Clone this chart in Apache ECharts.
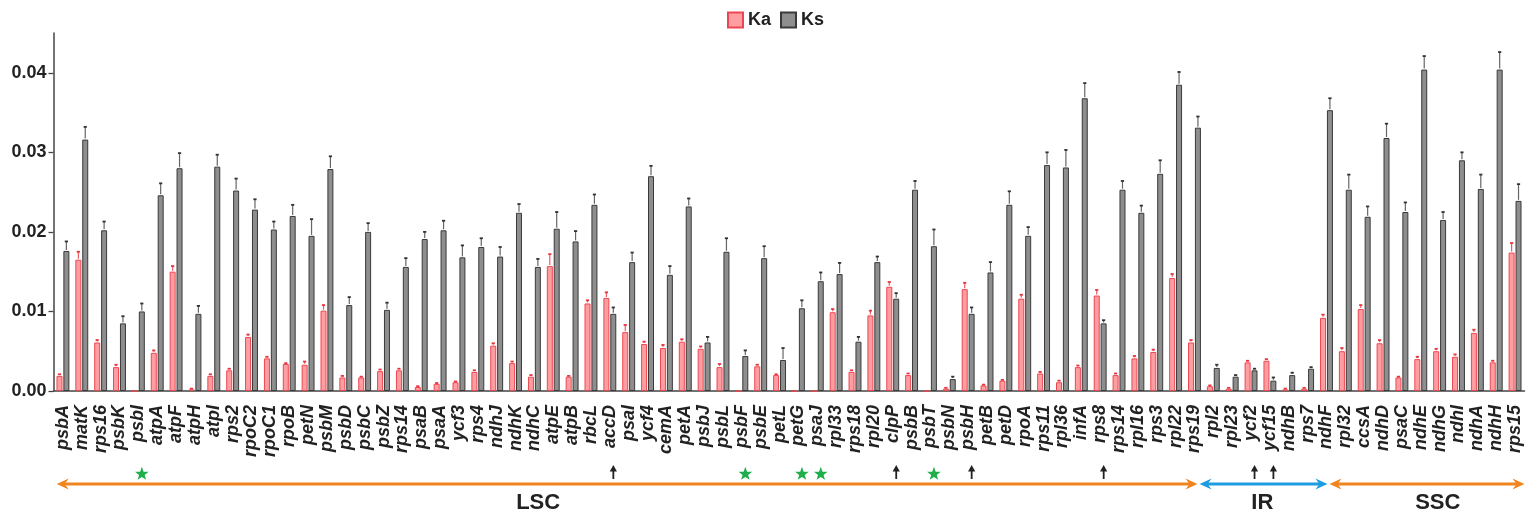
<!DOCTYPE html>
<html>
<head>
<meta charset="utf-8">
<script src="https://cdn.jsdelivr.net/npm/echarts@6/dist/echarts.min.js"></script>
<style>
  html, body { margin: 0; padding: 0; background: #ffffff; }
  #chart { width: 1530px; height: 516px; }
</style>
</head>
<body>
<div id="chart"></div>
<script>
// Protein-coding genes in genome order
const genes = [
  'psbA','matK','rps16','psbK','psbI','atpA','atpF','atpH','atpI','rps2',
  'rpoC2','rpoC1','rpoB','petN','psbM','psbD','psbC','psbZ','rps14','psaB',
  'psaA','ycf3','rps4','ndhJ','ndhK','ndhC','atpE','atpB','rbcL','accD',
  'psaI','ycf4','cemA','petA','psbJ','psbL','psbF','psbE','petL','petG',
  'psaJ','rpl33','rps18','rpl20','clpP','psbB','psbT','psbN','psbH','petB',
  'petD','rpoA','rps11','rpl36','infA','rps8','rps14','rpl16','rps3','rpl22',
  'rps19','rpl2','rpl23','ycf2','ycf15','ndhB','rps7','ndhF','rpl32','ccsA',
  'ndhD','psaC','ndhE','ndhG','ndhI','ndhA','ndhH','rps15'
];

// Non-synonymous substitution rate (Ka) and its error
const kaValues = [
  0.0019,0.0165,0.0061,0.0030,0,0.0048,0.0150,0.0002,0.0019,0.0026,
  0.0068,0.0041,0.0034,0.0033,0.0101,0.0017,0.0017,0.0025,0.0026,0.0005,
  0.0009,0.0011,0.0024,0.0057,0.0035,0.0018,0.0157,0.0018,0.0110,0.0117,
  0.0074,0.0059,0.0054,0.0062,0.0053,0.0030,0,0.0031,0.0020,0,
  0,0.0099,0.0024,0.0095,0.0131,0.0020,0,0.0003,0.0128,0.0007,
  0.0013,0.0116,0.0022,0.0011,0.0030,0.0120,0.0020,0.0041,0.0049,0.0142,
  0.0061,0.0006,0.0003,0.0036,0.0038,0.0002,0.0003,0.0092,0.0050,0.0103,
  0.0060,0.0017,0.0040,0.0050,0.0043,0.0073,0.0036,0.0174
];
const kaErrors = [
  0.0002,0.0010,0.0003,0.0003,0,0.0003,0.0007,0.0001,0.0002,0.0002,
  0.0003,0.0002,0.0001,0.0004,0.0007,0.0002,0.0001,0.0002,0.0002,0.0001,
  0.0001,0.0001,0.0002,0.0003,0.0002,0.0002,0.0015,0.0001,0.0004,0.0007,
  0.0009,0.0003,0.0004,0.0003,0.0003,0.0004,0,0.0002,0.0001,0,
  0,0.0004,0.0002,0.0006,0.0006,0.0002,0,0.0001,0.0008,0.0001,
  0.0001,0.0005,0.0002,0.0002,0.0002,0.0007,0.0002,0.0003,0.0003,0.0005,
  0.0003,0.0001,0.0001,0.0002,0.0002,0.0001,0.0001,0.0004,0.0004,0.0005,
  0.0004,0.0001,0.0003,0.0003,0.0003,0.0004,0.0002,0.0012
];

// Synonymous substitution rate (Ks) and its error
const ksValues = [
  0.0176,0.0316,0.0202,0.0085,0.0100,0.0246,0.0280,0.0097,0.0282,0.0252,
  0.0228,0.0203,0.0220,0.0195,0.0279,0.0108,0.0200,0.0102,0.0156,0.0191,
  0.0202,0.0168,0.0181,0.0169,0.0224,0.0156,0.0204,0.0188,0.0234,0.0097,
  0.0162,0.0270,0.0146,0.0232,0.0061,0.0175,0.0044,0.0167,0.0039,0.0104,
  0.0138,0.0147,0.0062,0.0162,0.0116,0.0253,0.0182,0.0015,0.0097,0.0149,
  0.0234,0.0195,0.0284,0.0281,0.0368,0.0085,0.0253,0.0224,0.0273,0.0385,
  0.0331,0.0029,0.0018,0.0026,0.0013,0.0020,0.0028,0.0353,0.0253,0.0219,
  0.0318,0.0225,0.0404,0.0215,0.0290,0.0254,0.0404,0.0239
];
const ksErrors = [
  0.0012,0.0016,0.0011,0.0009,0.0010,0.0015,0.0019,0.0010,0.0015,0.0015,
  0.0013,0.0010,0.0014,0.0021,0.0016,0.0010,0.0011,0.0009,0.0011,0.0009,
  0.0012,0.0015,0.0011,0.0012,0.0011,0.0010,0.0021,0.0013,0.0013,0.0008,
  0.0012,0.0013,0.0011,0.0010,0.0007,0.0017,0.0007,0.0015,0.0015,0.0010,
  0.0011,0.0014,0.0006,0.0007,0.0007,0.0011,0.0021,0.0003,0.0008,0.0013,
  0.0017,0.0011,0.0016,0.0022,0.0019,0.0004,0.0011,0.0009,0.0017,0.0016,
  0.0014,0.0004,0.0002,0.0002,0.0004,0.0003,0.0002,0.0015,0.0019,0.0013,
  0.0018,0.0012,0.0017,0.0010,0.0010,0.0018,0.0022,0.0021
];

const yTicks = [0, 0.01, 0.02, 0.03, 0.04];

// Genes flagged under the axis
const starGenes = ['psbI', 'psbF', 'petG', 'psaJ', 'psbT'];
const arrowGenes = ['accD', 'clpP', 'psbH', 'rps8', 'ycf2', 'ycf15'];

// Genome regions, spans given in category positions
const regionNames = ['LSC', 'IR', 'SSC'];
const regionFrom = [-0.33, 60.27, 67.16];
const regionTo = [60.16, 67.05, 77.5];
const regionLabelAt = [25.2, 63.6, 72.9];
const regionColors = ['#f2841f', '#1c9de2', '#f2841f'];

const BAR_W = 6;
const BAR_GAP = 0.15;
const HALF_SHIFT = (BAR_W + BAR_W * BAR_GAP) / 2;
const FONT = '"Liberation Sans", Arial, sans-serif';

function errorSeries(name, values, errors, shift, stemColor, capColor) {
  return {
    type: 'custom',
    name: name + ' error',
    silent: true,
    z: 5,
    encode: { x: 0, y: [1, 2] },
    data: values.map((v, i) => [i, v, v + errors[i]]),
    renderItem: function (params, api) {
      const v = api.value(1), top = api.value(2);
      if (!(top > v)) return null;
      const b = api.coord([api.value(0), v]);
      const t = api.coord([api.value(0), top]);
      const x = b[0] + shift;
      return {
        type: 'group',
        children: [
          { type: 'line', shape: { x1: x, y1: b[1] - 1, x2: x, y2: t[1] }, style: { stroke: stemColor, lineWidth: 1.2 } },
          { type: 'line', shape: { x1: x - 1.6, y1: t[1], x2: x + 1.6, y2: t[1] }, style: { stroke: capColor, lineWidth: 1.8 } }
        ]
      };
    }
  };
}

function starPoints(cx, cy, ro, ri) {
  const pts = [];
  for (let k = 0; k < 10; k++) {
    const r = k % 2 === 0 ? ro : ri;
    const a = -Math.PI / 2 + k * Math.PI / 5;
    pts.push([cx + r * Math.cos(a), cy + r * Math.sin(a)]);
  }
  return pts;
}

function arrowHead(tipX, y, dir, color) {
  // dir = -1 points left, +1 points right
  const len = 12, half = 5.5, notch = 4;
  return {
    type: 'polygon',
    shape: { points: [
      [tipX, y],
      [tipX - dir * len, y - half],
      [tipX - dir * (len - notch), y],
      [tipX - dir * len, y + half]
    ] },
    style: { fill: color }
  };
}

const markerData = [];
genes.forEach((g, i) => {
  if (starGenes.indexOf(g) >= 0) markerData.push([i, 0, 1]);
  if (arrowGenes.indexOf(g) >= 0) markerData.push([i, 0, 2]);
});

const chart = echarts.init(document.getElementById('chart'), null, { renderer: 'canvas' });

chart.setOption({
  animation: false,
  backgroundColor: '#ffffff',
  textStyle: { fontFamily: FONT },
  legend: {
    data: ['Ka', 'Ks'],
    left: 722,
    top: 6,
    itemWidth: 15,
    itemHeight: 15,
    itemGap: 9,
    icon: 'rect',
    textStyle: { fontSize: 18, fontWeight: 'bold', color: '#222', fontFamily: FONT }
  },
  grid: { left: 53.5, right: 5.5, top: 33, bottom: 125, outerBoundsMode: 'none' },
  xAxis: {
    type: 'category',
    data: genes,
    axisLine: { lineStyle: { color: '#444', width: 1.5 } },
    axisTick: { alignWithLabel: true, length: 9, lineStyle: { color: '#444', width: 1.3 } },
    axisLabel: {
      interval: 0,
      rotate: 90,
      margin: 14,
      fontSize: 18,
      fontStyle: 'italic',
      fontWeight: 'bold',
      color: '#222',
      fontFamily: FONT
    },
    splitLine: { show: false }
  },
  yAxis: {
    type: 'value',
    min: 0,
    max: 0.045,
    interval: 0.01,
    axisLine: { show: true, lineStyle: { color: '#444', width: 1.5 } },
    axisTick: { show: true, length: 5, customValues: yTicks, lineStyle: { color: '#444', width: 1.3 } },
    axisLabel: {
      customValues: yTicks,
      margin: 7,
      fontSize: 18,
      fontWeight: 'bold',
      color: '#222',
      fontFamily: FONT,
      formatter: v => v.toFixed(2)
    },
    splitLine: { show: false }
  },
  series: [
    {
      name: 'Ka',
      type: 'bar',
      data: kaValues,
      barWidth: BAR_W,
      barGap: (BAR_GAP * 100) + '%',
      itemStyle: { color: '#ff9ea2', borderColor: '#ee4650', borderWidth: 1 }
    },
    {
      name: 'Ks',
      type: 'bar',
      data: ksValues,
      barWidth: BAR_W,
      barGap: (BAR_GAP * 100) + '%',
      itemStyle: { color: '#8e8e8e', borderColor: '#3a3a3a', borderWidth: 1 }
    },
    errorSeries('Ka', kaValues, kaErrors, -HALF_SHIFT, '#ee5a62', '#e8353e'),
    errorSeries('Ks', ksValues, ksErrors, HALF_SHIFT, '#666666', '#333333'),
    {
      // stars and arrows under flagged genes
      type: 'custom',
      name: 'markers',
      silent: true,
      clip: false,
      encode: { x: 0, y: 1 },
      data: markerData,
      renderItem: function (params, api) {
        const p = api.coord([api.value(0), 0]);
        const x = p[0] + 3.5;
        const y0 = p[1];
        if (api.value(2) === 1) {
          return {
            type: 'polygon',
            shape: { points: starPoints(x, y0 + 83, 7.2, 2.9) },
            style: { fill: '#1fae4b' }
          };
        }
        return {
          type: 'group',
          children: [
            { type: 'line', shape: { x1: x, y1: y0 + 80, x2: x, y2: y0 + 88 }, style: { stroke: '#222', lineWidth: 1.8 } },
            { type: 'polygon', shape: { points: [[x, y0 + 74], [x - 3.6, y0 + 80.5], [x + 3.6, y0 + 80.5]] }, style: { fill: '#222' } }
          ]
        };
      }
    },
    {
      // genome region spans
      type: 'custom',
      name: 'regions',
      silent: true,
      clip: false,
      encode: { x: 0, y: 1 },
      data: regionNames.map((n, i) => [0, 0, i]),
      renderItem: function (params, api) {
        const k = api.value(2);
        const origin = api.coord([0, 0]);
        const band = api.size([1, 0])[0];
        const xa = origin[0] + regionFrom[k] * band;
        const xb = origin[0] + regionTo[k] * band;
        const xt = origin[0] + regionLabelAt[k] * band;
        const y = origin[1] + 93;
        const c = regionColors[k];
        return {
          type: 'group',
          children: [
            { type: 'line', shape: { x1: xa + 6, y1: y, x2: xb - 6, y2: y }, style: { stroke: c, lineWidth: 3 } },
            arrowHead(xa, y, -1, c),
            arrowHead(xb, y, 1, c),
            {
              type: 'text',
              style: {
                x: xt, y: origin[1] + 112,
                text: regionNames[k],
                fill: '#222',
                font: 'bold 22px ' + FONT,
                align: 'center',
                verticalAlign: 'middle'
              }
            }
          ]
        };
      }
    }
  ]
});
</script>
</body>
</html>
